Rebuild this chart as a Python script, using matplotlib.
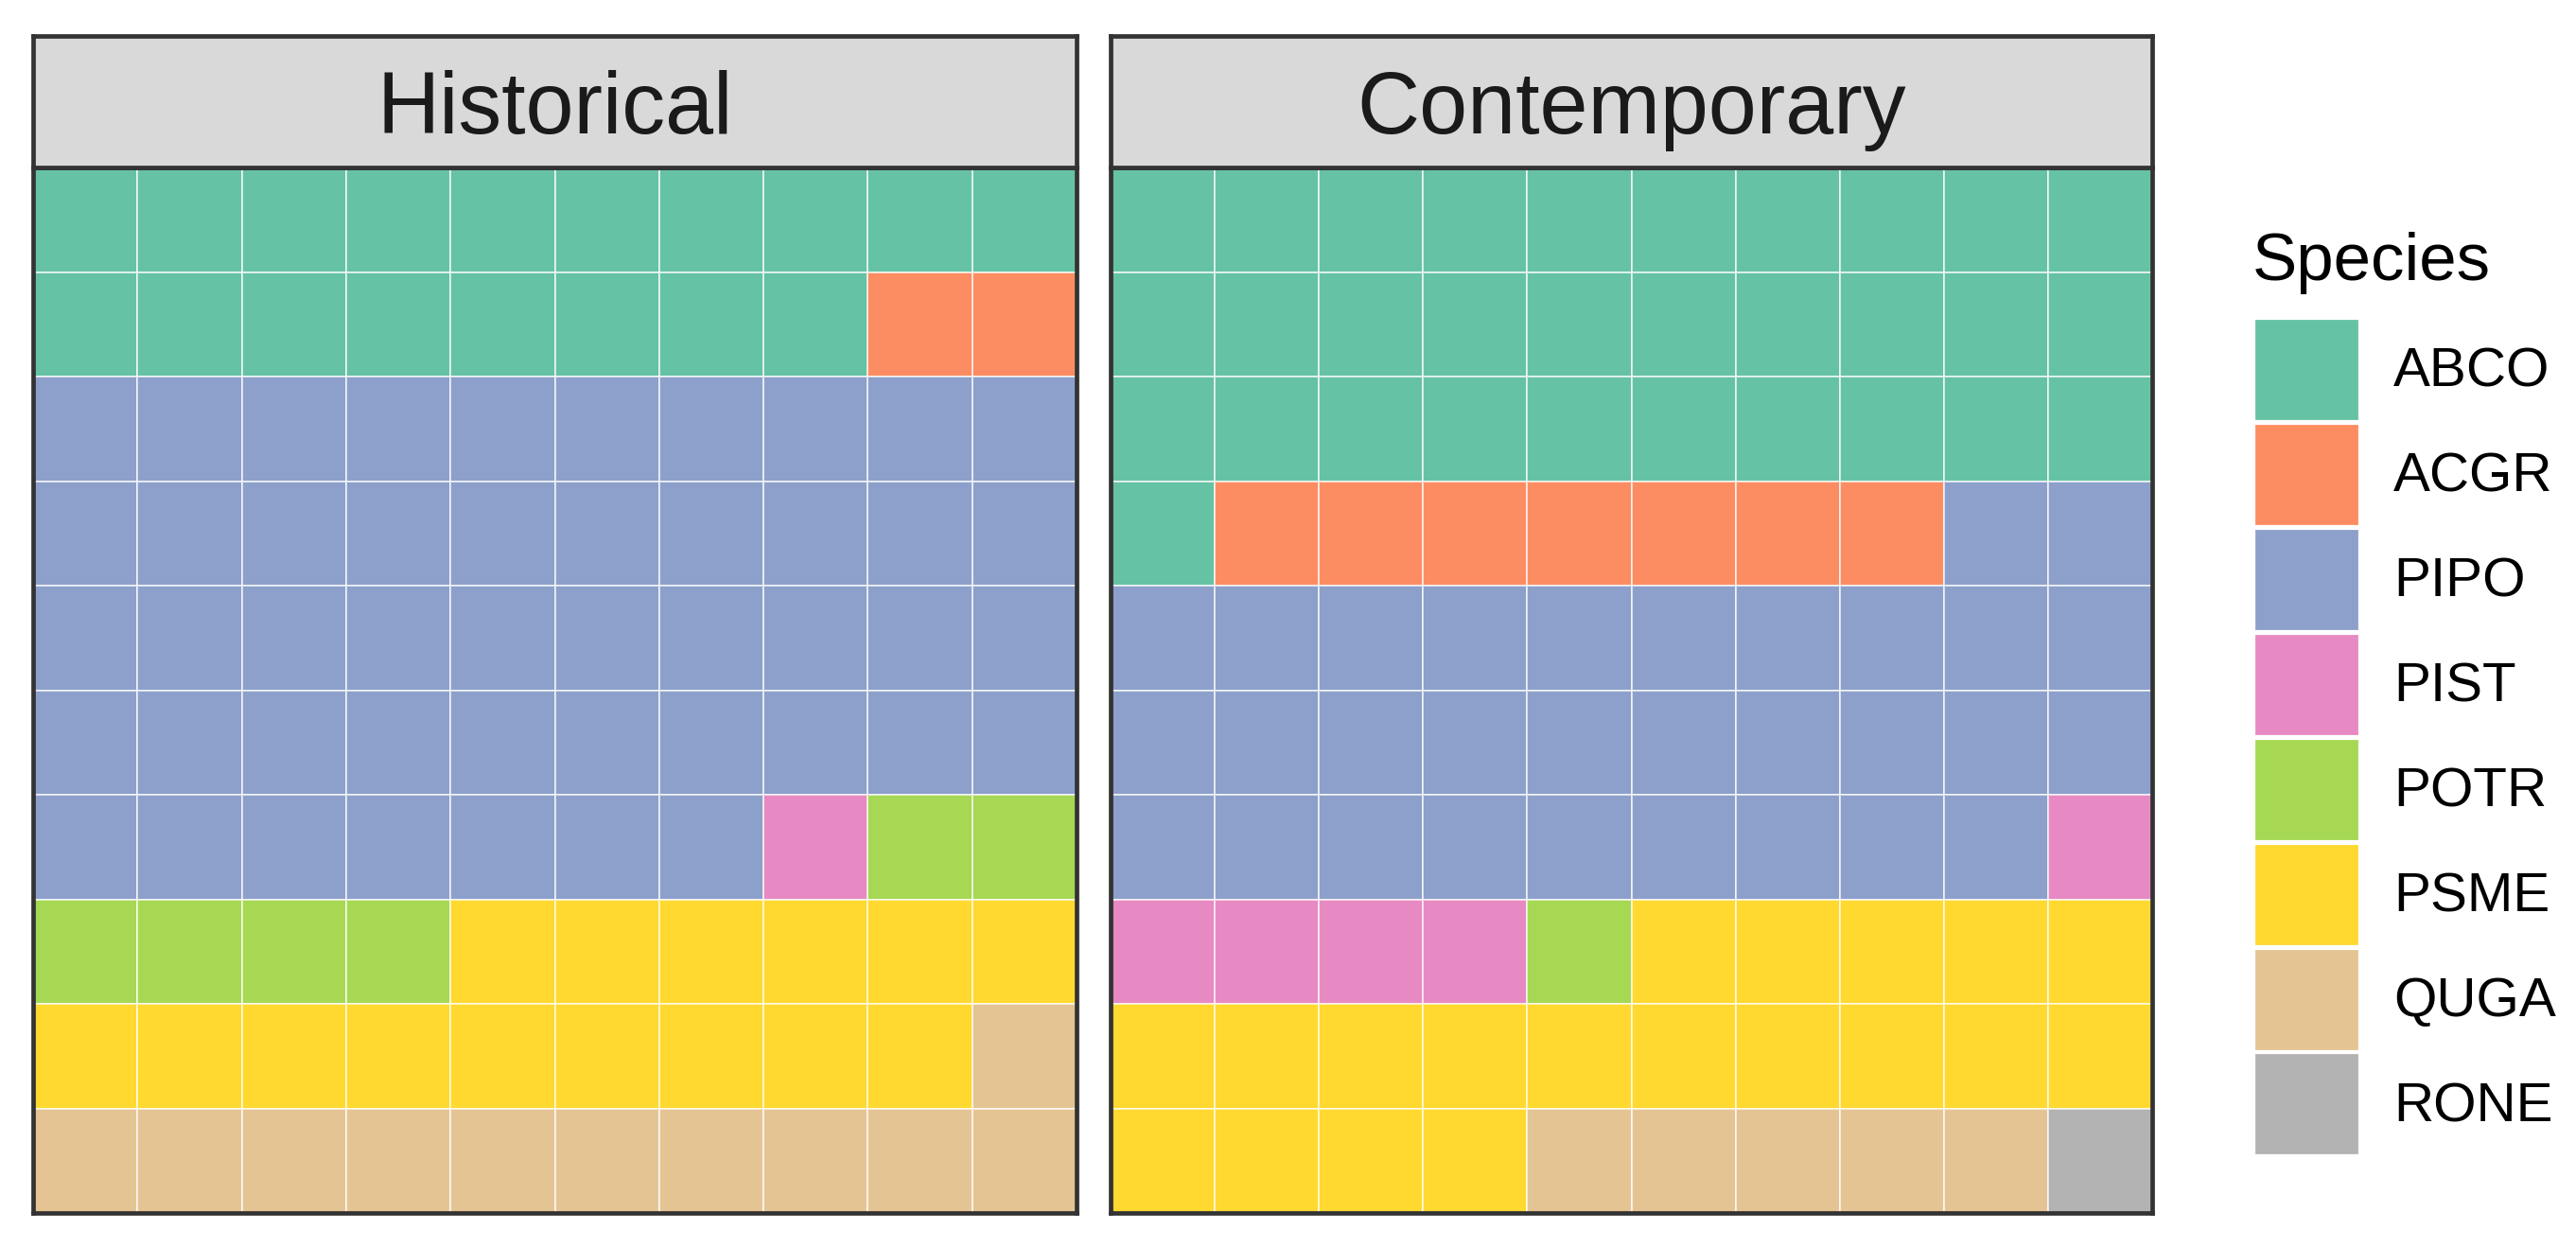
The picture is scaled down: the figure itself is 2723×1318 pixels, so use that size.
import matplotlib
matplotlib.use("Agg")
import matplotlib.pyplot as plt
from matplotlib.colors import ListedColormap
from matplotlib.patches import Patch
import numpy as np

plt.rcParams["font.family"] = ["Liberation Sans", "DejaVu Sans"]

species = ["ABCO", "ACGR", "PIPO", "PIST", "POTR", "PSME", "QUGA", "RONE"]
colors = ["#66C2A5", "#FC8D62", "#8DA0CB", "#E78AC3",
          "#A6D854", "#FFD92F", "#E5C494", "#B3B3B3"]

periods = ["Historical", "Contemporary"]
historical_counts = [18, 2, 47, 1, 6, 15, 11, 0]
contemporary_counts = [31, 7, 31, 5, 1, 19, 5, 1]

NROW, NCOL = 10, 10

W, H = 2723, 1318
DPI = 200
fig = plt.figure(figsize=(W / DPI, H / DPI), dpi=DPI)

cmap = ListedColormap(colors)
border = "#333333"

panels = [(35, 1138), (1174, 2275)]
strip_top, strip_bot, panel_bot = 38, 177, 1282

for (x0, x1), name, counts in zip(panels, periods,
                                  [historical_counts, contemporary_counts]):
    # waffle grid, filled row by row from the top
    codes = np.repeat(np.arange(len(species)), counts)
    grid = codes.reshape(NROW, NCOL)

    ax = fig.add_axes([x0 / W, 1 - panel_bot / H,
                       (x1 - x0) / W, (panel_bot - strip_bot) / H])
    ax.pcolormesh(np.arange(NCOL + 1), np.arange(NROW + 1), grid,
                  cmap=cmap, vmin=-0.5, vmax=len(species) - 0.5,
                  edgecolors=(1, 1, 1, 0.65), linewidth=0.65)
    ax.set_xlim(0, NCOL)
    ax.set_ylim(NROW, 0)
    ax.set_xticks([])
    ax.set_yticks([])
    for s in ax.spines.values():
        s.set_color(border)
        s.set_linewidth(1.7)

    # facet strip
    sax = fig.add_axes([x0 / W, 1 - strip_bot / H,
                        (x1 - x0) / W, (strip_bot - strip_top) / H])
    sax.set_facecolor("#D9D9D9")
    sax.set_xticks([])
    sax.set_yticks([])
    for s in sax.spines.values():
        s.set_color(border)
        s.set_linewidth(1.7)
    sax.text(0.5, 0.5, name, ha="center", va="center_baseline",
             fontsize=33, color="#1A1A1A", transform=sax.transAxes)

# legend: keys ~108 px square, 111 px pitch
fs = 21
hh = (108 / DPI * 72 / fs - 0.245) / 0.65
handles = [Patch(facecolor=c, edgecolor="white", linewidth=0.8) for c in colors]
leg = fig.legend(handles, species,
                 loc="upper left", bbox_to_anchor=(2383 / W, 1 - 337 / H),
                 frameon=False, fontsize=fs,
                 handlelength=1.9, handleheight=hh,
                 labelspacing=0.05, handletextpad=0.62,
                 borderaxespad=0, borderpad=0)
fig.text(2381 / W, 1 - 296 / H, "Species", fontsize=25.5,
         ha="left", va="baseline", color="black")

fig.savefig("out.png", dpi=DPI)
